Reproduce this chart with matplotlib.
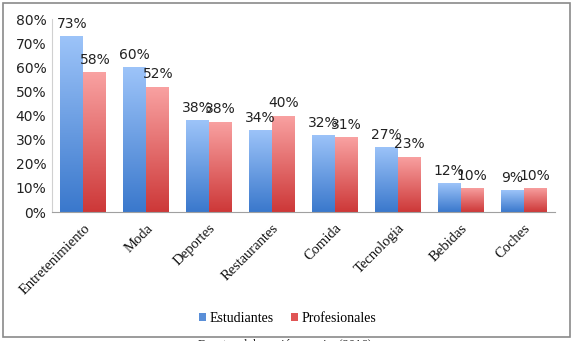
import numpy as np
import matplotlib
matplotlib.use("Agg")
import matplotlib.pyplot as plt
from matplotlib.patches import Rectangle, Patch
from matplotlib.colors import LinearSegmentedColormap

categories = ["Entretenimiento", "Moda", "Deportes", "Restaurantes", "Comida",
              "Tecnologia", "Bebidas", "Coches"]
estudiantes = [0.73, 0.60, 0.38, 0.34, 0.32, 0.27, 0.12, 0.09]
profesionales = [0.58, 0.52, 0.375, 0.40, 0.31, 0.23, 0.10, 0.10]
series_names = ["Estudiantes", "Profesionales"]
yticks = [0, 0.1, 0.2, 0.3, 0.4, 0.5, 0.6, 0.7, 0.8]

fig = plt.figure(figsize=(5.75, 3.41), dpi=100)
fig.patch.set_facecolor("white")
fig.add_artist(Rectangle((0.005, 0.012), 0.987, 0.979, transform=fig.transFigure,
                         fill=False, edgecolor="#8a8a8a", linewidth=1.2))

ax = fig.add_axes([0.0904, 0.378, 0.875, 0.566])
x = np.arange(len(categories))
w = 0.365

blue_cmap = LinearSegmentedColormap.from_list("b", ["#3a78cc", "#9dc4f9"])
red_cmap = LinearSegmentedColormap.from_list("r", ["#cd3838", "#f9a2a2"])

def grad_bars(xs, vals, cmap):
    bars = ax.bar(xs, vals, width=w, color="none", edgecolor="none", zorder=2)
    grad = np.linspace(0, 1, 256).reshape(-1, 1)
    for b in bars:
        x0, y0 = b.get_x(), b.get_y()
        x1, y1 = x0 + b.get_width(), y0 + b.get_height()
        im = ax.imshow(grad, cmap=cmap, origin="lower", aspect="auto",
                       extent=[x0, x1, y0, y1], zorder=2, interpolation="bilinear")
        im.set_clip_path(b)
    return bars

b1 = grad_bars(x - w / 2, estudiantes, blue_cmap)
b2 = grad_bars(x + w / 2, profesionales, red_cmap)

for xs, vals in ((x - w / 2, estudiantes), (x + w / 2, profesionales)):
    for xi, v in zip(xs, vals):
        ax.text(xi, v + 0.022, f"{round(v*100):d}%", ha="center", va="bottom",
                fontsize=10, color="#222222", family="DejaVu Sans")

ax.set_xlim(-0.5, len(categories) - 0.5)
ax.set_ylim(0, 0.8)
ax.set_yticks(yticks)
ax.set_yticklabels([f"{int(round(t*100))}%" for t in yticks], fontsize=10,
                   family="DejaVu Sans", color="#222222")
ax.set_xticks(x)
ax.set_xticklabels(categories, rotation=45, ha="right", rotation_mode="anchor",
                   fontsize=10.5, family="Liberation Serif", color="#111111")
ax.tick_params(length=0, pad=4)
ax.tick_params(axis="x", pad=7)
for s in ("top", "right"):
    ax.spines[s].set_visible(False)
ax.spines["left"].set_color("#d0d0d0")
ax.spines["bottom"].set_color("#a0a0a0")
ax.set_facecolor("none")

handles = [Patch(facecolor="#5a8fd8", edgecolor="none"),
           Patch(facecolor="#e05555", edgecolor="none")]
fig.legend(handles, series_names, loc="center", bbox_to_anchor=(0.5, 0.067),
           ncol=2, frameon=False, prop={"family": "Liberation Serif", "size": 10},
           handlelength=0.55, handleheight=0.55, handletextpad=0.25, columnspacing=1.2)

fig.text(0.495, -0.012, "Fuente: elaboración propia. (2016)", ha="center", va="center",
         fontsize=9, family="Liberation Serif", color="#222222")

fig.savefig("out.png", dpi=100)
